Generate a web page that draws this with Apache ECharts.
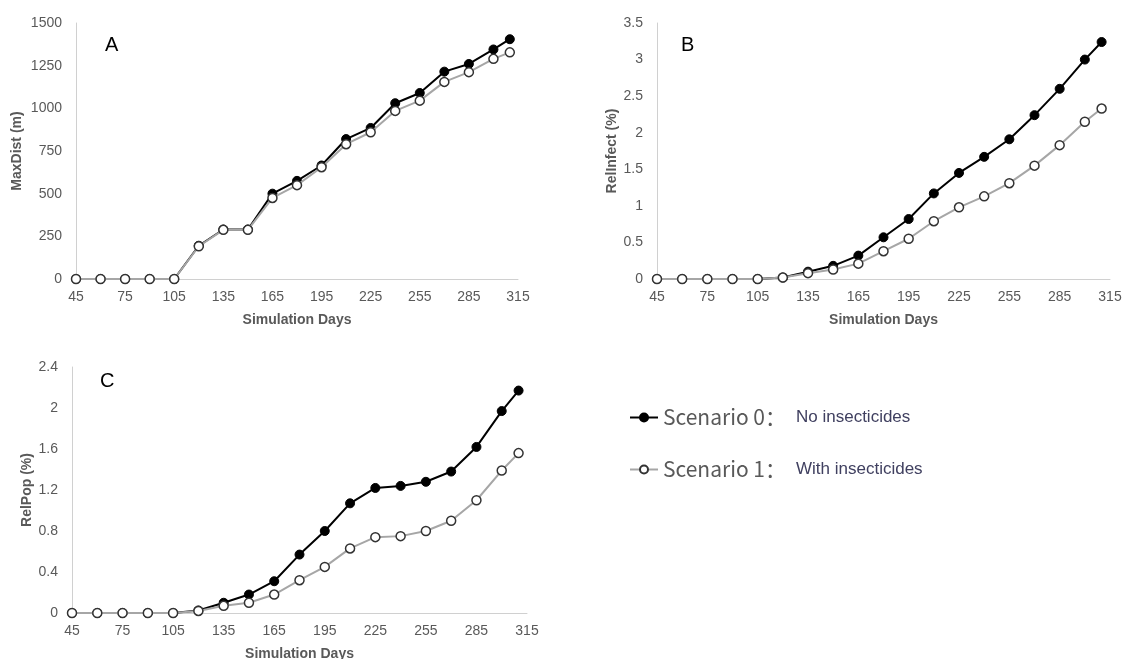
<!DOCTYPE html>
<html>
<head>
    <meta charset="UTF-8">
    <title>Scenario comparison</title>
    <script src="https://cdn.jsdelivr.net/npm/echarts@6/dist/echarts.min.js"></script>
    <style>
        html, body { margin: 0; padding: 0; background: #fff; }
        #main { width: 1125px; height: 659px; }
    </style>
</head>
<body>
<div id="main"></div>
<script type="text/javascript">
    // 模拟天数
    var days = [45, 60, 75, 90, 105, 120, 135, 150, 165, 180, 195, 210, 225, 240, 255, 270, 285, 300, 310];
    var dayLabels = [45, 75, 105, 135, 165, 195, 225, 255, 285, 315];

    // A: MaxDist (m)
    var maxDist0 = [0, 0, 0, 0, 0, 195, 290, 290, 500, 575, 665, 820, 885, 1030, 1090, 1215, 1260, 1345, 1405];
    var maxDist1 = [0, 0, 0, 0, 0, 192, 288, 288, 475, 550, 655, 790, 860, 985, 1045, 1155, 1212, 1290, 1328];
    var maxDistTicks = [0, 250, 500, 750, 1000, 1250, 1500];

    // B: RelInfect (%)
    var relInfect0 = [0, 0, 0, 0, 0, 0.02, 0.1, 0.18, 0.32, 0.57, 0.82, 1.17, 1.45, 1.67, 1.91, 2.24, 2.6, 3.0, 3.24];
    var relInfect1 = [0, 0, 0, 0, 0, 0.02, 0.08, 0.13, 0.21, 0.38, 0.55, 0.79, 0.98, 1.13, 1.31, 1.55, 1.83, 2.15, 2.33];
    var relInfectTicks = [0, 0.5, 1, 1.5, 2, 2.5, 3, 3.5];

    // C: RelPop (%)
    var relPop0 = [0, 0, 0, 0, 0, 0.025, 0.1, 0.18, 0.31, 0.57, 0.8, 1.07, 1.22, 1.24, 1.28, 1.38, 1.62, 1.97, 2.17];
    var relPop1 = [0, 0, 0, 0, 0, 0.02, 0.07, 0.1, 0.18, 0.32, 0.45, 0.63, 0.74, 0.75, 0.8, 0.9, 1.1, 1.39, 1.56];
    var relPopTicks = [0, 0.4, 0.8, 1.2, 1.6, 2, 2.4];

    var panelNames = ['A', 'B', 'C'];
    var seriesNames = ['Scenario 0', 'Scenario 1'];
    var seriesNotes = ['No insecticides', 'With insecticides'];

    function pairs(ys) {
        return days.map(function (d, i) { return [d, ys[i]]; });
    }

    var labelColor = '#595959';
    var axisLineColor = '#d0d0d0';

    function xAxis(gridIndex) {
        return {
            type: 'value', gridIndex: gridIndex, min: 45, max: 315,
            name: 'Simulation Days', nameLocation: 'middle', nameGap: 34,
            nameTextStyle: { color: labelColor, fontSize: 14, fontWeight: 'bold', fontFamily: 'Liberation Sans' },
            axisLine: { show: true, lineStyle: { color: axisLineColor, width: 1 } },
            axisTick: { show: false },
            splitLine: { show: false },
            axisLabel: { customValues: dayLabels, color: labelColor, fontSize: 14, fontFamily: 'Liberation Sans', margin: 11 }
        };
    }

    function yAxis(gridIndex, ticks, name, gap) {
        return {
            type: 'value', gridIndex: gridIndex,
            min: ticks[0], max: ticks[ticks.length - 1], interval: ticks[1] - ticks[0],
            name: name, nameLocation: 'middle', nameGap: gap, nameRotate: 90,
            nameTextStyle: { color: labelColor, fontSize: 14, fontWeight: 'bold', fontFamily: 'Liberation Sans' },
            axisLine: { show: true, lineStyle: { color: axisLineColor, width: 1 } },
            axisTick: { show: false },
            splitLine: { show: false },
            axisLabel: {
                color: labelColor, fontSize: 14, fontFamily: 'Liberation Sans', margin: 14,
                formatter: function (v) { return String(v); }
            }
        };
    }

    function lineSeries(idx, gridIndex, ys) {
        var s = {
            name: seriesNames[idx], type: 'line',
            xAxisIndex: gridIndex, yAxisIndex: gridIndex,
            data: pairs(ys), z: idx === 0 ? 3 : 4,
            symbol: 'circle', symbolSize: 9
        };
        if (idx === 0) {
            s.lineStyle = { color: '#000', width: 2 };
            s.itemStyle = { color: '#000', borderColor: '#000', borderWidth: 1 };
        } else {
            s.lineStyle = { color: '#a6a6a6', width: 2 };
            s.itemStyle = { color: '#fff', borderColor: '#333', borderWidth: 1.5 };
        }
        return s;
    }

    var myChart = echarts.init(document.getElementById('main'), null, { renderer: 'canvas' });

    var titleStyle = { fontSize: 20, fontWeight: 'normal', color: '#000', fontFamily: 'Liberation Sans' };

    var option = {
        backgroundColor: '#fff',
        animation: false,
        title: [
            { text: panelNames[0], left: 100, top: 30, textStyle: titleStyle },
            { text: panelNames[1], left: 676, top: 30, textStyle: titleStyle },
            { text: panelNames[2], left: 95, top: 366, textStyle: titleStyle }
        ],
        legend: {
            orient: 'vertical', left: 629, top: 407, padding: 0,
            data: seriesNames,
            itemWidth: 28, itemHeight: 10, itemGap: 31,
            formatter: function (name) {
                var i = seriesNames.indexOf(name);
                return '{a|' + name + '：}{b|' + seriesNotes[i] + '}';
            },
            textStyle: {
                rich: {
                    a: { fontSize: 21, color: labelColor, fontFamily: 'Noto Sans CJK SC', lineHeight: 28, width: 133 },
                    b: { fontSize: 17, color: '#404060', fontFamily: 'Liberation Sans', lineHeight: 28 }
                }
            }
        },
        grid: [
            { left: 76, top: 23, width: 442, height: 256, outerBoundsMode: 'none' },
            { left: 657, top: 23, width: 453, height: 256, outerBoundsMode: 'none' },
            { left: 72, top: 367, width: 455, height: 246, outerBoundsMode: 'none' }
        ],
        xAxis: [xAxis(0), xAxis(1), xAxis(2)],
        yAxis: [
            yAxis(0, maxDistTicks, 'MaxDist (m)', 52),
            yAxis(1, relInfectTicks, 'RelInfect (%)', 38),
            yAxis(2, relPopTicks, 'RelPop (%)', 37)
        ],
        series: [
            lineSeries(0, 0, maxDist0), lineSeries(1, 0, maxDist1),
            lineSeries(0, 1, relInfect0), lineSeries(1, 1, relInfect1),
            lineSeries(0, 2, relPop0), lineSeries(1, 2, relPop1)
        ]
    };
    myChart.setOption(option);
</script>
</body>
</html>
